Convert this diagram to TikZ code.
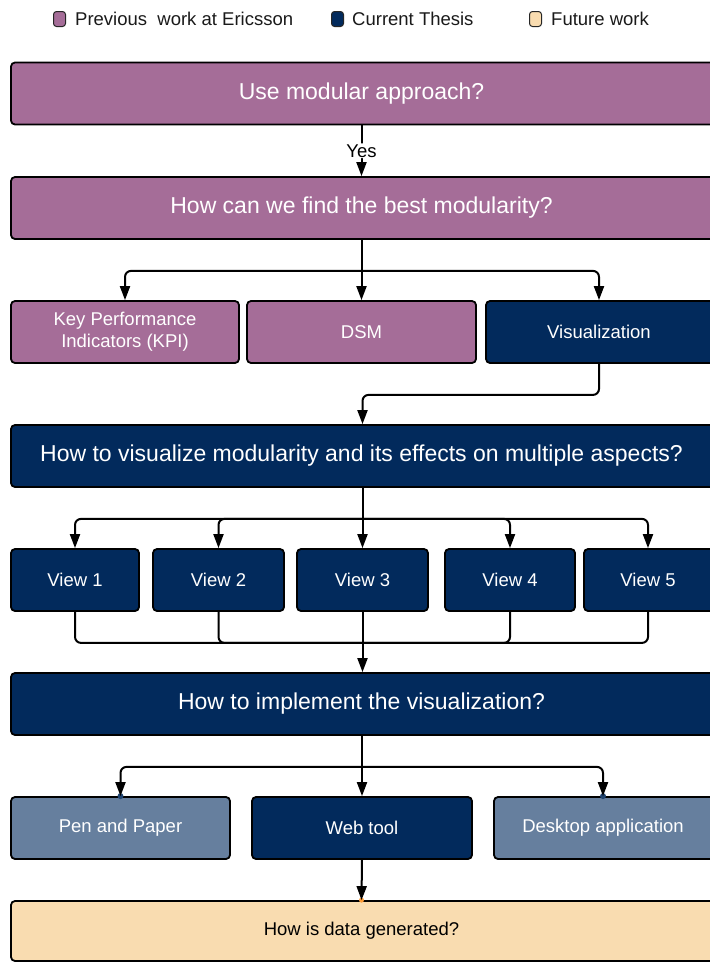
\documentclass[tikz,border=0pt]{standalone}
\usepackage{fontspec}
\setmainfont{Liberation Sans}
\usetikzlibrary{arrows.meta}

\definecolor{prevc}{HTML}{A56D98}
\definecolor{curc}{HTML}{022A5C}
\definecolor{altc}{HTML}{667F9E}
\definecolor{futc}{HTML}{F9DCB0}
\definecolor{legtext}{HTML}{1A1A1A}

% boxes on the right run 12pt past the page edge; shift their text back
\newcommand{\edgetext}[1]{\hspace*{-12pt}#1}

\tikzset{
  box/.style={draw=black, line width=1.8pt, rounded corners=4pt, inner sep=0pt,
    align=center, text=white, minimum height=62pt},
  bigtxt/.style={font=\fontsize{23}{26}\selectfont},
  smalltxt/.style={font=\fontsize{18.5}{22}\selectfont},
  prevbox/.style={box, fill=prevc},
  curbox/.style={box, fill=curc},
  altbox/.style={box, fill=altc},
  futbox/.style={box, fill=futc, text=black},
  wire/.style={draw=black, line width=2pt, rounded corners=6pt},
  conn/.style={wire, -{Triangle[length=14pt,width=10pt]}},
  legkey/.style={draw=black!85, line width=1pt, rounded corners=3pt,
    minimum width=12pt, minimum height=15pt, inner sep=0pt},
  legtxt/.style={font=\fontsize{18.5}{22}\selectfont, text=legtext, anchor=west, inner sep=0pt},
  pin/.style={circle, inner sep=0pt, minimum size=6pt},
}

\begin{document}
\begin{tikzpicture}[x=1pt, y=-1pt]
  \useasboundingbox (0,0) rectangle (710,962);
  \clip (0,0) rectangle (710,962);
  \fill[white] (0,0) rectangle (710,962);

  % legend
  \node[legkey, fill=prevc] (k1) at (59.5,19) {};
  \node[legtxt] (l1) at (75,19) {Previous\ \ work at Ericsson};
  \node[legkey, fill=curc] (k2) at (337.5,19) {};
  \node[legtxt] (l2) at (352,19) {Current Thesis};
  \node[legkey, fill=futc] (k3) at (535.5,19) {};
  \node[legtxt] (l3) at (551,19) {Future work};

  % questions and answers
  \node[prevbox, bigtxt, minimum width=713pt] (q1) at (367.5,93.5) {\edgetext{Use modular approach?}};
  \node[prevbox, bigtxt, minimum width=713pt] (q2) at (367.5,208) {\edgetext{How can we find the best modularity?}};

  \node[prevbox, smalltxt, minimum width=228pt] (kpi) at (125,332) {Key Performance\\Indicators (KPI)};
  \node[prevbox, smalltxt, minimum width=229pt] (dsm) at (361.5,332) {DSM};
  \node[curbox, smalltxt, minimum width=238pt] (vis) at (605,332) {\edgetext{Visualization}};

  \node[curbox, bigtxt, minimum width=713pt] (q3) at (367.5,456) {\edgetext{How to visualize modularity and its effects on multiple aspects?}};

  \node[curbox, smalltxt, minimum width=128pt] (v1) at (75,580) {View 1};
  \node[curbox, smalltxt, minimum width=131pt] (v2) at (218.5,580) {View 2};
  \node[curbox, smalltxt, minimum width=131pt] (v3) at (362.5,580) {View 3};
  \node[curbox, smalltxt, minimum width=130pt] (v4) at (510,580) {View 4};
  \node[curbox, smalltxt, minimum width=140pt] (v5) at (654,580) {\edgetext{View 5}};

  \node[curbox, bigtxt, minimum width=713pt] (q4) at (367.5,704) {\edgetext{How to implement the visualization?}};

  \node[altbox, smalltxt, minimum width=219pt] (pen) at (120.5,828) {Pen and Paper};
  \node[curbox, smalltxt, minimum width=220pt] (web) at (362,828) {Web tool};
  \node[altbox, smalltxt, minimum width=230pt] (desk) at (609,828) {\edgetext{Desktop application}};

  \node[futbox, smalltxt, minimum width=713pt, minimum height=60pt] (data) at (367.5,931) {\edgetext{How is data generated?}};

  % connection points
  \node[pin, fill=curc!70!altc] (p1) at (pen.north) {};
  \node[pin, fill=curc!70!altc] (p2) at ([xshift=-6pt]desk.north) {};
  \node[pin, fill=orange!70!futc, minimum size=5pt] (p3) at ([xshift=-6pt]data.north) {};

  % anchors on the clipped boxes, centred on their visible part
  \coordinate (visn) at ([xshift=-6pt]vis.north);
  \coordinate (viss) at ([xshift=-6pt]vis.south);
  \coordinate (v5n) at ([xshift=-6pt]v5.north);
  \coordinate (v5s) at ([xshift=-6pt]v5.south);

  % connectors
  \draw[conn] (q1.south -| dsm.north) -- node[fill=white, inner sep=1pt, text=black,
    font=\fontsize{18.5}{22}\selectfont] (yes) {Yes} (q2.north -| dsm.north);

  \coordinate (b1) at ([yshift=-31pt]q2.south -| dsm.north);
  \draw[conn] (q2.south -| dsm.north) -- (dsm.north);
  \draw[conn] (b1) -| (kpi.north);
  \draw[conn] (b1) -| (visn);

  \coordinate (b2) at ([yshift=-31pt]viss);
  \draw[conn] (viss) -- (b2) -| (q3.north -| v3.north);

  \coordinate (b3) at ([yshift=-31pt]q3.south -| v3.north);
  \draw[conn] (b3 |- q3.south) -- (v3.north);
  \draw[conn] (b3) -| (v1.north);
  \draw[conn] (b3) -| (v2.north);
  \draw[conn] (b3) -| (v4.north);
  \draw[conn] (b3) -| (v5n);

  \coordinate (b4) at ([yshift=-31pt]v3.south);
  \draw[conn] (v3.south) -- (q4.north -| v3.south);
  \draw[wire] (v1.south) |- (b4);
  \draw[wire] (v2.south) |- (b4);
  \draw[wire] (v4.south) |- (b4);
  \draw[wire] (v5s) |- (b4);

  \coordinate (b5) at ([yshift=-31pt]q4.south -| web.north);
  \draw[conn] (q4.south -| web.north) -- (web.north);
  \draw[conn] (b5) -| (pen.north);
  \draw[conn] (b5) -| (p2.center);

  \draw[conn] (web.south) -- (p3.center);
\end{tikzpicture}
\end{document}
